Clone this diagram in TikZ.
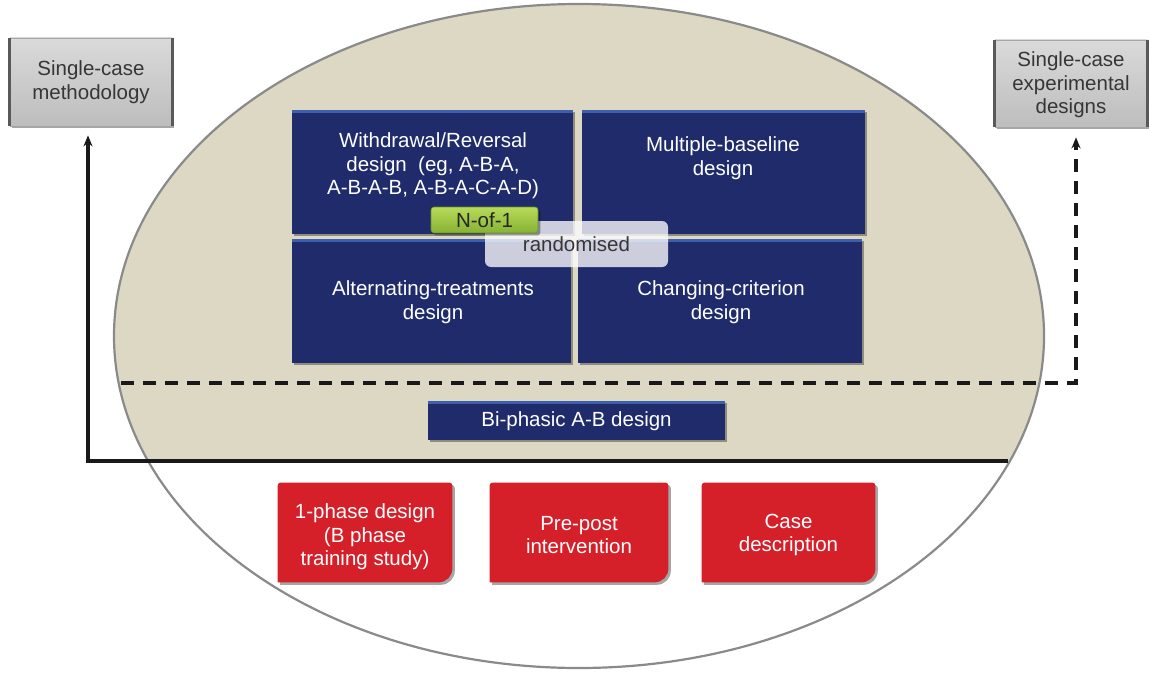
\documentclass[tikz,border=0pt]{standalone}
\usepackage{fontspec}
\setmainfont{Liberation Sans}
\usetikzlibrary{calc,shadows,arrows.meta}
\definecolor{beige}{HTML}{DDD8C3}
\definecolor{navy}{HTML}{1F2B6B}
\definecolor{navyhi}{HTML}{3D5FAE}
\definecolor{redbox}{HTML}{D5202A}
\definecolor{greentop}{HTML}{B8DA5A}
\definecolor{greenbot}{HTML}{86B233}
\definecolor{graytop}{HTML}{DADADA}
\definecolor{graybot}{HTML}{BDBDBD}
\definecolor{ellgray}{HTML}{8A8A8A}
\definecolor{txtgray}{HTML}{363636}
\begin{document}
\begin{tikzpicture}[x=0.5pt,y=-0.5pt,
  font=\fontsize{10.25}{11.75}\selectfont,
  shad/.style={drop shadow={shadow xshift=1.2pt,shadow yshift=-1.2pt,opacity=0.35,fill=black}},
  bluebox/.style={fill=navy,draw=none,inner sep=0,shad},
  graybox/.style={top color=graytop,bottom color=graybot,draw=gray!70,line width=0.4pt,inner sep=0,shad},
  redshape/.style={fill=redbox,shad},
  txt/.style={align=center,inner sep=0},
  wtxt/.style={txt,text=white},
  gtxt/.style={txt,text=txtgray},
  conn/.style={line width=1.6pt,black!90},
  tip/.style={-{Stealth[length=5.5pt,width=4.5pt]}},
  dashconn/.style={conn,dash pattern=on 6.5pt off 4.5pt}
]
\useasboundingbox (0,0) rectangle (1149,674);
\fill[white] (0,0) rectangle (1149,674);

% ellipse
\coordinate (ec) at (579,336);
\begin{scope}
  \clip (0,0) rectangle (1149,461);
  \fill[beige] (ec) ellipse [x radius=465, y radius=332];
\end{scope}
\draw[ellgray,line width=1.1pt] (ec) ellipse [x radius=465, y radius=332];

% gray boxes
\node[graybox,minimum width=81pt,minimum height=44pt] (lbox) at (91,82) {};
\draw[line width=1.2pt,black!65] (lbox.north west) -- (lbox.south west) (lbox.north east) -- (lbox.south east);
\node[gtxt] (ltxt) at (lbox.center) {Single-case\\methodology};

\node[graybox,minimum width=76pt,minimum height=43.5pt] (rbox) at (1071,83.5) {};
\draw[line width=1.2pt,black!65] (rbox.north west) -- (rbox.south west) (rbox.north east) -- (rbox.south east);
\node[gtxt] (rtxt) at (1071,85) {Single-case\\experimental\\designs};

% blue boxes
\node[bluebox,minimum width=140.5pt,minimum height=62pt] (tl) at (432.5,172) {};
\node[bluebox,minimum width=141.5pt,minimum height=62pt] (tr) at (723.5,172) {};
\node[bluebox,minimum width=139.5pt,minimum height=62pt] (bl) at (431.5,301) {};
\node[bluebox,minimum width=142pt,minimum height=62pt] (br) at (720,301) {};
\foreach \b in {tl,tr,bl,br}{
  \fill[navyhi] (\b.north west) rectangle ($(\b.north east)+(0,3.5)$);
}
\node[wtxt] (tltxt) at (433,166) {Withdrawal/Reversal\\design\ \ (eg, A-B-A,\\A-B-A-B, A-B-A-C-A-D)};
\node[wtxt] (trtxt) at (723,158) {Multiple-baseline\\design};
\node[wtxt] (bltxt) at (433,302) {Alternating-treatments\\design};
\node[wtxt] (brtxt) at (721,302) {Changing-criterion\\design};

% randomised
\node[fill=white!90!blue!6,fill opacity=0.78,text opacity=1,rounded corners=3pt,
      minimum width=91.5pt,minimum height=23pt,inner sep=0,text=txtgray] (rand) at (576.5,244) {randomised};
% N-of-1
\node[top color=greentop,bottom color=greenbot,draw=greenbot!80!black,line width=0.3pt,rounded corners=1.5pt,
      minimum width=53.5pt,minimum height=13pt,inner sep=0,shad,text=black!85] (nof1) at (484.5,220) {N-of-1};

% Bi-phasic
\node[bluebox,minimum width=148.5pt,minimum height=19.5pt] (bi) at (576.5,420.5) {};
\fill[navyhi] (bi.north west) rectangle ($(bi.north east)+(0,3)$);
\node[wtxt] (bitxt) at (576.5,421) {Bi-phasic A-B design};

% connectors
\coordinate (s1) at (1008,461);
\coordinate (s2) at (88,461);
\draw[conn,tip,shorten >=4.5pt] (s1) -- (s2) -- (s2 |- lbox.south);
\coordinate (d1) at (121,383);
\coordinate (d2) at (1076,383);
\draw[dashconn,tip,shorten >=5pt] (d1) -- (d2) -- (d2 |- rbox.south);

% red boxes
\node[minimum width=87pt,minimum height=49.5pt,inner sep=0] (r1) at (365,532.5) {};
\node[minimum width=89pt,minimum height=49.5pt,inner sep=0] (r2) at (579,532.5) {};
\node[minimum width=86.5pt,minimum height=49.5pt,inner sep=0] (r3) at (788.5,532.5) {};
\foreach \r in {r1,r2,r3}{
  \path[redshape] (\r.south west) [rounded corners=1.5pt] -- (\r.north west) -- (\r.north east) [rounded corners=7pt] -- (\r.south east) [sharp corners] -- cycle;
}
\node[wtxt] (r1txt) at (365,537) {1-phase design\\(B phase\\training study)};
\node[wtxt] (r2txt) at (579,535) {Pre-post\\intervention};
\node[wtxt] (r3txt) at (788.5,535) {Case\\description};
\end{tikzpicture}
\end{document}
